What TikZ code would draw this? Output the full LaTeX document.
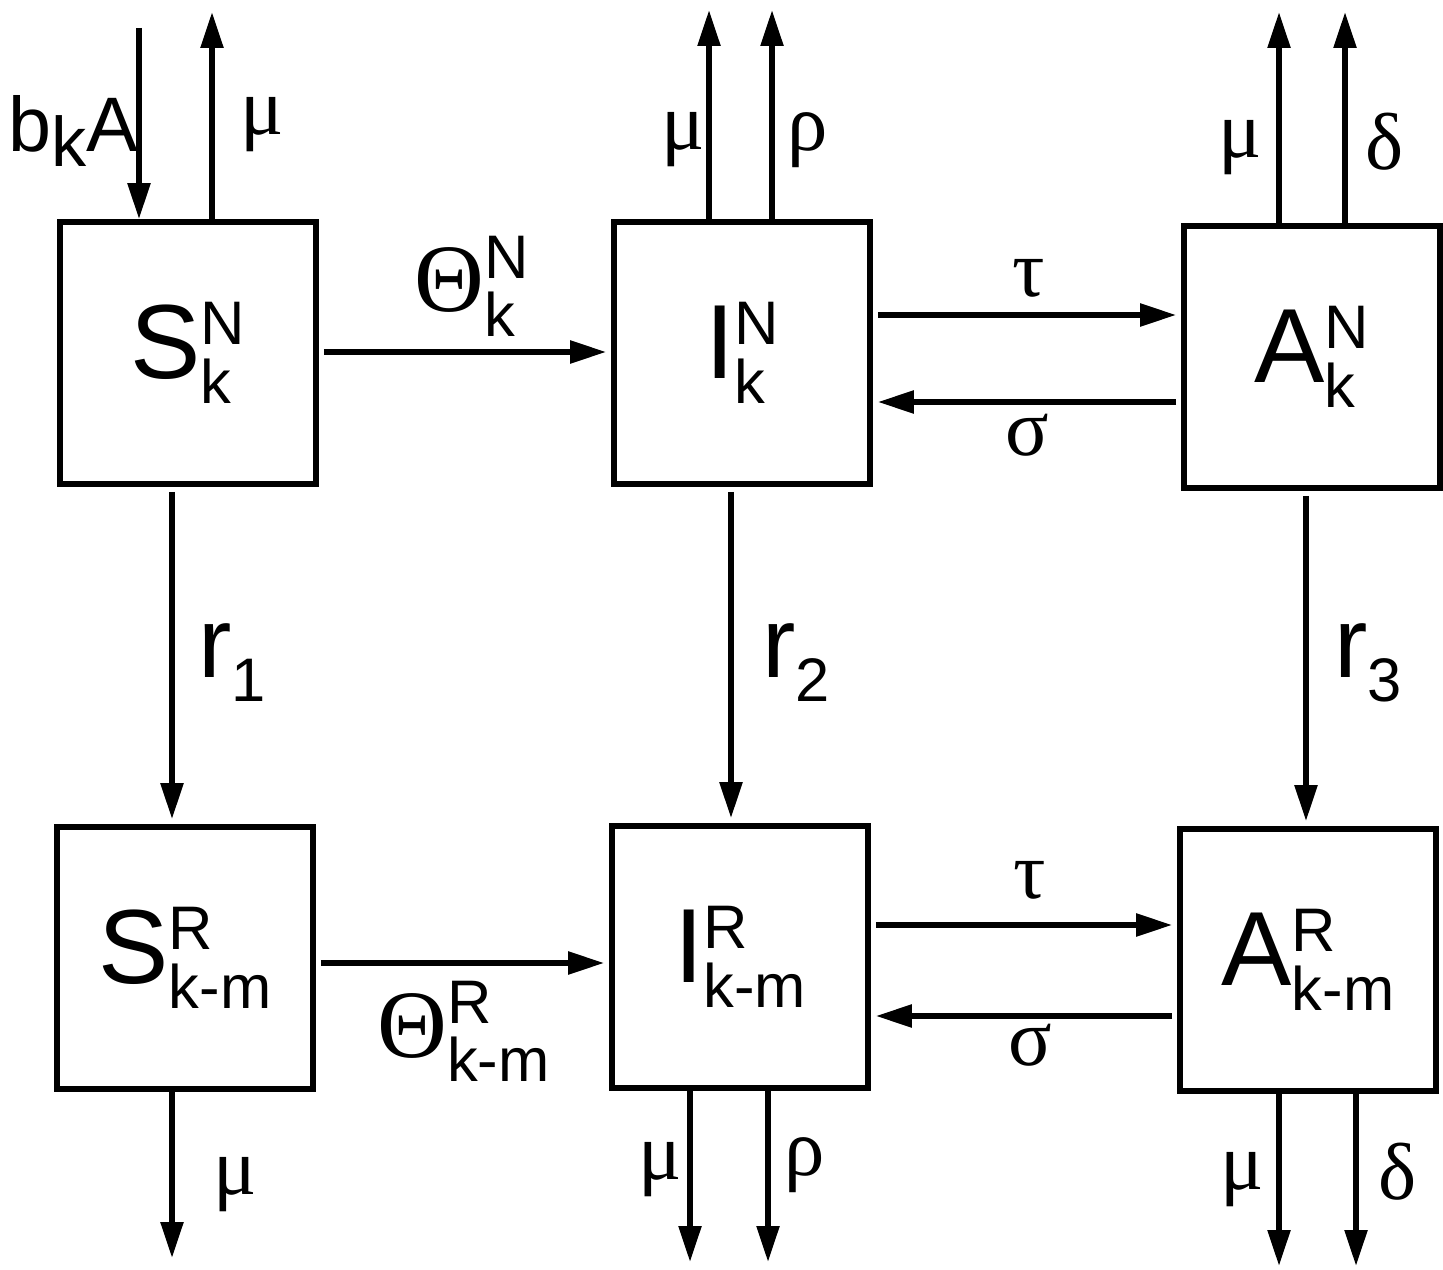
\documentclass[tikz,border=0pt]{standalone}
\usepackage{fontspec}
\setmainfont{Liberation Sans}
\newfontfamily\greekfont{Liberation Serif}
\usetikzlibrary{arrows.meta}

\newcommand{\subsz}{\fontsize{35}{35}\selectfont}
\newcommand{\gr}[1]{{\greekfont\fontsize{46}{46}\selectfont #1}}
\newcommand{\cmp}[3]{#1{\subsz\lower0.4em\vbox{\baselineskip=0.95em\hbox{#2}\hbox{#3}}}}

\begin{document}
\begin{tikzpicture}[x=0.02cm,y=-0.02cm,
    box/.style={draw,line width=0.115cm,minimum width=5.12cm,minimum height=5.24cm,
      font=\fontsize{60}{60}\selectfont},
    flow/.style={line width=0.11cm,-{Triangle[length=0.72cm,width=0.44cm]}},
    gap/.style={shorten <=0.1cm,shorten >=0.1cm},
    lbl/.style={inner sep=0pt}]
  \useasboundingbox (0,0) rectangle (1443,1270);

  % compartments
  \node[box] (SN) at (188,353) {\cmp{S}{N}{k}};
  \node[box] (IN) at (742,353) {\cmp{I}{N}{k}};
  \node[box] (AN) at (1312,357) {\cmp{A}{N}{k}};
  \node[box] (SR) at (185,958) {\cmp{S}{R}{k-m}};
  \node[box] (IR) at (740,957) {\cmp{I}{R}{k-m}};
  \node[box] (AR) at (1308,960) {\cmp{A}{R}{k-m}};

  % free ends
  \coordinate (bin) at (139,28);
  \coordinate (muS) at (212,12);
  \coordinate (muI) at (709,10);
  \coordinate (rhoI) at (772,10);
  \coordinate (muA) at (1279,12);
  \coordinate (deltaA) at (1345,12);
  \coordinate (muSR) at (172,1258);
  \coordinate (muIR) at (690,1262);
  \coordinate (rhoIR) at (768,1262);
  \coordinate (muAR) at (1279,1266);
  \coordinate (deltaAR) at (1356,1266);

  % in and out
  \draw[flow] (bin) -- (SN.north -| bin);
  \foreach \e/\n in {muS/SN, muI/IN, rhoI/IN, muA/AN, deltaA/AN}
    \draw[flow] (\n.north -| \e) -- (\e);
  \foreach \e/\n in {muSR/SR, muIR/IR, rhoIR/IR, muAR/AR, deltaAR/AR}
    \draw[flow] (\n.south -| \e) -- (\e);

  % transitions
  \draw[flow,gap] (SN.east |- 0,352) -- (IN.west |- 0,352);
  \draw[flow,gap] (SR.east |- 0,963) -- (IR.west |- 0,963);
  \draw[flow,gap] (IN.east |- 0,315) -- (AN.west |- 0,315);
  \draw[flow,gap] (AN.west |- 0,402) -- (IN.east |- 0,402);
  \draw[flow,gap] (IR.east |- 0,925) -- (AR.west |- 0,925);
  \draw[flow,gap] (AR.west |- 0,1016) -- (IR.east |- 0,1016);
  \draw[flow,gap] (SN.south -| 172,0) -- (SR.north -| 172,0);
  \draw[flow,gap] (IN.south -| 731,0) -- (IR.north -| 731,0);
  \draw[flow,gap] (AN.south -| 1306,0) -- (AR.north -| 1306,0);

  % rates
  \node[lbl,anchor=base west,font=\fontsize{44}{44}\selectfont] (bk) at (8,152)
    {b{\fontsize{40}{40}\selectfont\lower8.5pt\hbox{k}}A};
  \node[lbl,anchor=base west] (thN) at (414,312)
    {\cmp{{\greekfont\fontsize{55}{55}\selectfont Θ}}{N}{k}};
  \node[lbl,anchor=base west] (thR) at (377,1057)
    {\cmp{{\greekfont\fontsize{55}{55}\selectfont Θ}}{R}{k-m}};
  \foreach \nm/\x/\i in {r1/198/1, r2/762/2, r3/1334/3}
    \node[lbl,anchor=base west,font=\fontsize{57}{57}\selectfont] (\nm) at (\x,677)
      {r{\subsz\lower14pt\hbox{\i}}};

  \node[lbl] (lmuS) at (262,125) {\gr{μ}};
  \node[lbl] (lmuI) at (683,140) {\gr{μ}};
  \node[lbl] (lrhoI) at (808,140) {\gr{ρ}};
  \node[lbl] (lmuA) at (1240,148) {\gr{μ}};
  \node[lbl] (ldeltaA) at (1385,142) {\gr{δ}};
  \node[lbl] (ltauN) at (1029,278) {\gr{τ}};
  \node[lbl] (lsigmaN) at (1027,435) {\gr{σ}};
  \node[lbl] (ltauR) at (1030,880) {\gr{τ}};
  \node[lbl] (lsigmaR) at (1030,1045) {\gr{σ}};
  \node[lbl] (lmuSR) at (235,1185) {\gr{μ}};
  \node[lbl] (lmuIR) at (660,1170) {\gr{μ}};
  \node[lbl] (lrhoIR) at (805,1165) {\gr{ρ}};
  \node[lbl] (lmuAR) at (1242,1180) {\gr{μ}};
  \node[lbl] (ldeltaAR) at (1398,1172) {\gr{δ}};
\end{tikzpicture}
\end{document}
